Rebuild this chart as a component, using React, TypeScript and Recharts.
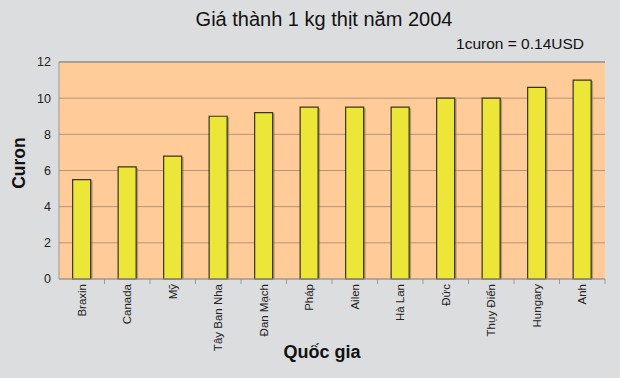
import { BarChart, Bar, XAxis, YAxis, CartesianGrid, ReferenceLine, Rectangle } from 'recharts'

const countries = ['Braxin', 'Canada', 'Mỹ', 'Tây Ban Nha', 'Đan Mạch', 'Pháp', 'Ailen', 'Hà Lan', 'Đức', 'Thụy Điển', 'Hungary', 'Anh']
const prices = [5.5, 6.2, 6.8, 9, 9.2, 9.5, 9.5, 9.5, 10, 10, 10.6, 11]
const yTicks = [0, 2, 4, 6, 8, 10, 12]

const data = countries.map((name, i) => ({ name, price: prices[i] }))

const W = 620
const H = 378
const margin = { top: 62, right: 15, bottom: 9, left: 20 }
const band = (W - margin.left - 39 - margin.right) / countries.length
const FONT = 'Arial, "Liberation Sans", sans-serif'

// eslint-disable-next-line @typescript-eslint/no-explicit-any
const CountryTick = ({ x, payload }: any) => (
  <g>
    <line x1={x + band / 2} x2={x + band / 2} y1={279} y2={284} stroke="#999" />
    <text x={x + 4} y={284} transform={`rotate(-90, ${x + 4}, 284)`} textAnchor="end" fontSize={11.5} fill="#222" fontFamily={FONT}>
      {payload.value}
    </text>
  </g>
)

// eslint-disable-next-line @typescript-eslint/no-explicit-any
const ShadowBar = (props: any) => {
  const { x, y, width, height } = props
  return (
    <g>
      <rect x={x + 2} y={y + 1} width={width} height={height - 1} fill="#8a7a5a" opacity={0.6} />
      <Rectangle x={x} y={y} width={width} height={height} fill="#ECE638" stroke="#3a3320" strokeWidth={1.2} />
    </g>
  )
}

export default function App() {
  return (
    <div style={{ position: 'absolute', left: 0, top: 0, width: W, height: H, background: '#DCDDDF', fontFamily: FONT }}>
      <div style={{ position: 'absolute', left: 324, top: 19, transform: 'translate(-50%, -50%)', whiteSpace: 'nowrap', fontSize: 20, color: '#111' }}>
        Giá thành 1 kg thịt năm 2004
      </div>
      <div style={{ position: 'absolute', right: 36, top: 35, fontSize: 15.5, color: '#111' }}>1curon = 0.14USD</div>
      <div style={{ position: 'absolute', left: 19, top: 163, transform: 'translate(-50%, -50%) rotate(-90deg)', fontSize: 17.5, fontWeight: 'bold', color: '#111' }}>
        Curon
      </div>
      <div style={{ position: 'absolute', left: 322, top: 352, transform: 'translate(-50%, -50%)', whiteSpace: 'nowrap', fontSize: 18, fontWeight: 'bold', color: '#111' }}>
        Quốc gia
      </div>
      <div style={{ position: 'absolute', left: 0, top: 0 }}>
        <BarChart width={W} height={H} data={data} margin={margin} barCategoryGap="30%">
          <CartesianGrid vertical={false} fill="#FFCC99" stroke="#B29477" strokeWidth={1} />
          <XAxis
            dataKey="name"
            interval={0}
            tickLine={false}
            axisLine={{ stroke: '#999' }}
            tick={<CountryTick />}
            height={90}
          />
          <YAxis
            domain={[0, 12]}
            ticks={yTicks}
            width={39}
            axisLine={{ stroke: '#999' }}
            tickLine={false}
            tick={{ fill: '#222', fontSize: 12.5, fontFamily: FONT }}
          />
          <YAxis yAxisId="right" orientation="right" width={0} tick={false} axisLine={{ stroke: '#999' }} tickLine={false} />
          <ReferenceLine y={12} stroke="#999" strokeWidth={1.5} />
          <Bar dataKey="price" isAnimationActive={false} shape={<ShadowBar />} maxBarSize={18} />
        </BarChart>
      </div>
    </div>
  )
}
